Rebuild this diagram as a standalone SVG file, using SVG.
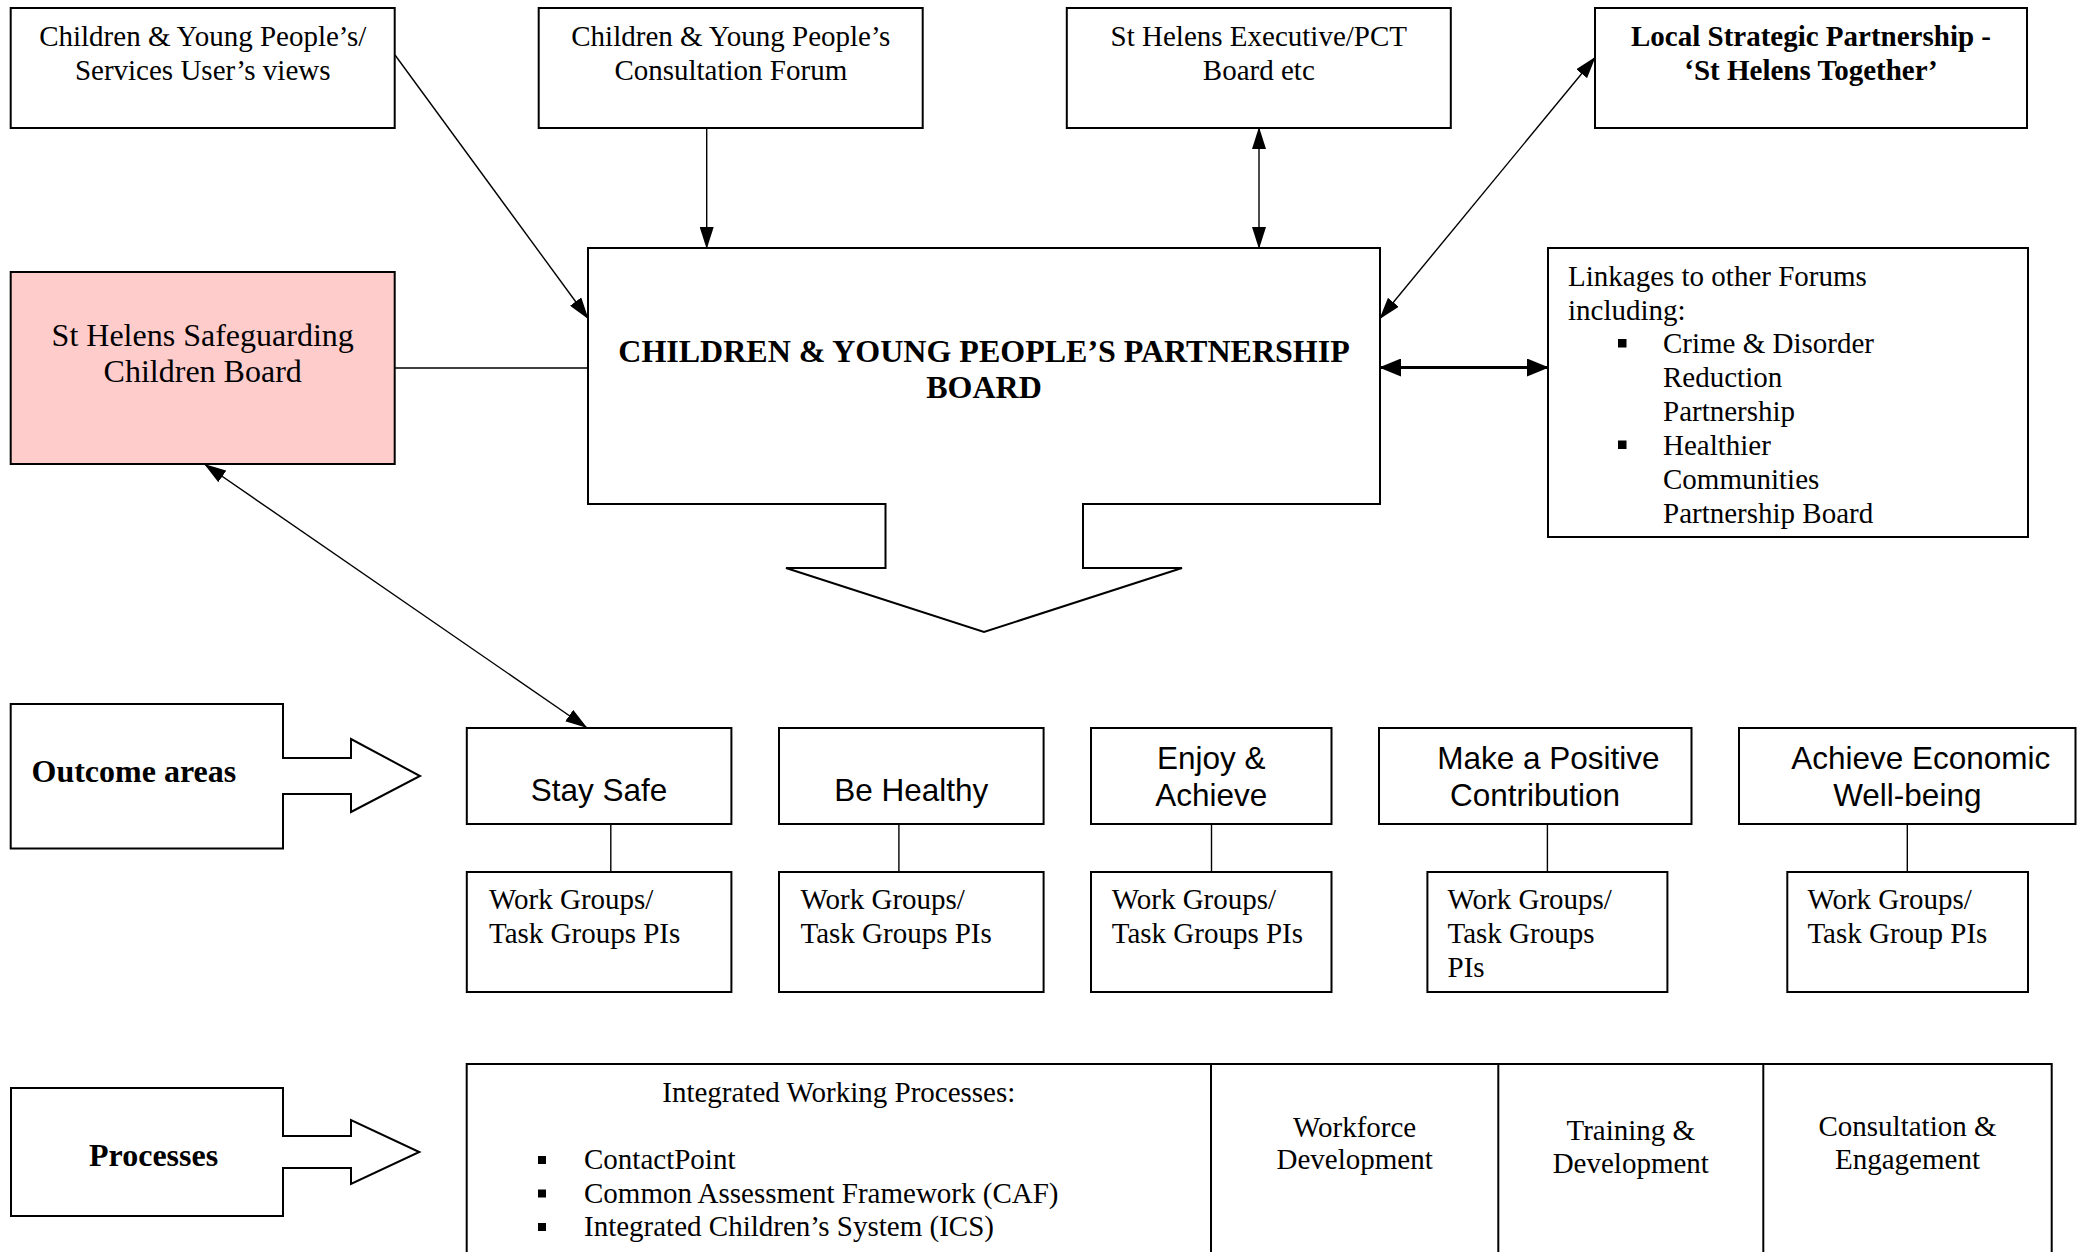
<svg xmlns="http://www.w3.org/2000/svg" width="2091" height="1252" viewBox="0 0 2091 1252">
<defs>
<marker id="ah" markerUnits="userSpaceOnUse" markerWidth="22" markerHeight="14" refX="21" refY="7" orient="auto-start-reverse" viewBox="0 0 22 14"><path d="M0,0 L22,7 L0,14 z" fill="#000"/></marker>
<marker id="ahb" markerUnits="userSpaceOnUse" markerWidth="22" markerHeight="18" refX="21" refY="9" orient="auto-start-reverse" viewBox="0 0 22 18"><path d="M0,0 L22,9 L0,18 z" fill="#000"/></marker>
</defs>
<style>
.box{fill:#fff;stroke:#000;stroke-width:2}
.pink{fill:#FFCCCC;stroke:#000;stroke-width:2}
.ln{stroke:#000;stroke-width:1.4;fill:none}
.thick{stroke:#000;stroke-width:3;fill:none}
.serif{font-family:"Liberation Serif","Times New Roman",serif;font-size:29px;fill:#000}
.bold{font-weight:bold}
.big{font-size:32px}
.sans{font-family:"Liberation Sans",Arial,sans-serif;font-size:31.5px;fill:#000}
.mid{text-anchor:middle}
.bul{fill:#000}
</style>
<rect x="0" y="0" width="2091" height="1252" fill="#fff"/>

<g id="connectors">
<line class="ln" x1="395" y1="55" x2="588" y2="318.5" marker-end="url(#ah)"/>
<line class="ln" x1="706.7" y1="128" x2="706.7" y2="248" marker-end="url(#ah)"/>
<line class="ln" x1="1259" y1="128" x2="1259" y2="248" marker-start="url(#ah)" marker-end="url(#ah)"/>
<line class="ln" x1="1380" y1="318.5" x2="1595" y2="57.5" marker-start="url(#ah)" marker-end="url(#ah)"/>
<line class="thick" x1="1380" y1="367.5" x2="1548" y2="367.5" marker-start="url(#ahb)" marker-end="url(#ahb)"/>
<line class="ln" x1="395" y1="368" x2="588" y2="368"/>
<line class="ln" x1="205" y1="464.5" x2="586.5" y2="727.5" marker-start="url(#ah)" marker-end="url(#ah)"/>
<line class="ln" x1="610.8" y1="824" x2="610.8" y2="872"/>
<line class="ln" x1="898.9" y1="824" x2="898.9" y2="872"/>
<line class="ln" x1="1211.5" y1="824" x2="1211.5" y2="872"/>
<line class="ln" x1="1547.4" y1="824" x2="1547.4" y2="872"/>
<line class="ln" x1="1907.3" y1="824" x2="1907.3" y2="872"/>
</g>

<g id="views">
<rect class="box" x="10.7" y="8" width="384" height="120"/>
<text class="serif mid" x="202.7" y="46">Children &amp; Young People’s/</text>
<text class="serif mid" x="202.7" y="80">Services User’s views</text>
</g>

<g id="forum">
<rect class="box" x="538.7" y="8" width="384" height="120"/>
<text class="serif mid" x="730.8" y="46">Children &amp; Young People’s</text>
<text class="serif mid" x="730.8" y="80">Consultation Forum</text>
</g>

<g id="executive">
<rect class="box" x="1066.8" y="8" width="384" height="120"/>
<text class="serif mid" x="1258.8" y="46">St Helens Executive/PCT</text>
<text class="serif mid" x="1258.8" y="80">Board etc</text>
</g>

<g id="lsp">
<rect class="box" x="1595" y="8" width="432" height="120"/>
<text class="serif bold mid" x="1811" y="46">Local Strategic Partnership -</text>
<text class="serif bold mid" x="1811" y="80">‘St Helens Together’</text>
</g>

<g id="safeguarding">
<rect class="pink" x="10.7" y="272" width="384" height="192"/>
<text class="serif big mid" x="202.7" y="346">St Helens Safeguarding</text>
<text class="serif big mid" x="202.7" y="382">Children Board</text>
</g>

<g id="partnership-board">
<polygon class="box" points="588,248 1380,248 1380,504 1083,504 1083,568 1182,568 984,632 786,568 885.5,568 885.5,504 588,504"/>
<text class="serif bold big mid" x="984" y="362">CHILDREN &amp; YOUNG PEOPLE’S PARTNERSHIP</text>
<text class="serif bold big mid" x="984" y="398">BOARD</text>
</g>

<g id="linkages">
<rect class="box" x="1548" y="248" width="480" height="289"/>
<text class="serif" x="1568" y="286">Linkages to other Forums</text>
<text class="serif" x="1568" y="319.5">including:</text>
<rect class="bul" x="1618" y="339" width="8.5" height="8.5"/>
<text class="serif" x="1663" y="353">Crime &amp; Disorder</text>
<text class="serif" x="1663" y="386.5">Reduction</text>
<text class="serif" x="1663" y="420.5">Partnership</text>
<rect class="bul" x="1618" y="440.5" width="8.5" height="8.5"/>
<text class="serif" x="1663" y="454.5">Healthier</text>
<text class="serif" x="1663" y="488.5">Communities</text>
<text class="serif" x="1663" y="522.5">Partnership Board</text>
</g>

<g id="outcome-areas">
<polygon class="box" points="10.7,704 283,704 283,758 351,758 351,739 420,776 351,812 351,794 283,794 283,848.5 10.7,848.5"/>
<text class="serif bold big" x="31.5" y="782">Outcome areas</text>
</g>

<g id="stay-safe">
<rect class="box" x="466.8" y="728" width="264.6" height="96"/>
<text class="sans mid" x="599.1" y="801">Stay Safe</text>
</g>

<g id="be-healthy">
<rect class="box" x="779" y="728" width="264.6" height="96"/>
<text class="sans mid" x="911.3" y="801">Be Healthy</text>
</g>

<g id="enjoy-achieve">
<rect class="box" x="1091" y="728" width="240.5" height="96"/>
<text class="sans mid" x="1211.2" y="768.5">Enjoy &amp;</text>
<text class="sans mid" x="1211.2" y="805.5">Achieve</text>
</g>

<g id="positive-contribution">
<rect class="box" x="1379" y="728" width="312.5" height="96"/>
<text class="sans mid" x="1548.4" y="768.5">Make a Positive</text>
<text class="sans mid" x="1535" y="805.5">Contribution</text>
</g>

<g id="economic-wellbeing">
<rect class="box" x="1739" y="728" width="336.5" height="96"/>
<text class="sans mid" x="1920.7" y="768.5">Achieve Economic</text>
<text class="sans mid" x="1907.3" y="805.5">Well-being</text>
</g>

<g id="wg-stay-safe">
<rect class="box" x="466.8" y="872" width="264.6" height="120"/>
<text class="serif" x="489" y="909">Work Groups/</text>
<text class="serif" x="489" y="943">Task Groups PIs</text>
</g>

<g id="wg-be-healthy">
<rect class="box" x="779" y="872" width="264.6" height="120"/>
<text class="serif" x="800.5" y="909">Work Groups/</text>
<text class="serif" x="800.5" y="943">Task Groups PIs</text>
</g>

<g id="wg-enjoy">
<rect class="box" x="1091" y="872" width="240.5" height="120"/>
<text class="serif" x="1111.7" y="909">Work Groups/</text>
<text class="serif" x="1111.7" y="943">Task Groups PIs</text>
</g>

<g id="wg-positive">
<rect class="box" x="1427.4" y="872" width="240" height="120"/>
<text class="serif" x="1447.5" y="909">Work Groups/</text>
<text class="serif" x="1447.5" y="943">Task Groups</text>
<text class="serif" x="1447.5" y="977">PIs</text>
</g>

<g id="wg-economic">
<rect class="box" x="1787.3" y="872" width="240.7" height="120"/>
<text class="serif" x="1807.4" y="909">Work Groups/</text>
<text class="serif" x="1807.4" y="943">Task Group PIs</text>
</g>

<g id="processes">
<polygon class="box" points="11,1088 283,1088 283,1136 351,1136 351,1120 419.3,1152 351,1184 351,1168 283,1168 283,1216 11,1216"/>
<text class="serif bold big" x="89" y="1166">Processes</text>
</g>

<g id="process-table">
<rect class="box" x="466.7" y="1064" width="1585" height="220"/>
<line class="box" x1="1211" y1="1064" x2="1211" y2="1260"/>
<line class="box" x1="1498.3" y1="1064" x2="1498.3" y2="1260"/>
<line class="box" x1="1763.3" y1="1064" x2="1763.3" y2="1260"/>
<text class="serif mid" x="838.8" y="1102">Integrated Working Processes:</text>
<rect class="bul" x="538" y="1156" width="8" height="8"/>
<text class="serif" x="584" y="1169">ContactPoint</text>
<rect class="bul" x="538" y="1189.5" width="8" height="8"/>
<text class="serif" x="584" y="1202.5">Common Assessment Framework (CAF)</text>
<rect class="bul" x="538" y="1223" width="8" height="8"/>
<text class="serif" x="584" y="1236">Integrated Children’s System (ICS)</text>
<text class="serif mid" x="1354.6" y="1137">Workforce</text>
<text class="serif mid" x="1354.6" y="1169">Development</text>
<text class="serif mid" x="1630.8" y="1140">Training &amp;</text>
<text class="serif mid" x="1630.8" y="1173">Development</text>
<text class="serif mid" x="1907.5" y="1136">Consultation &amp;</text>
<text class="serif mid" x="1907.5" y="1169">Engagement</text>
</g>
</svg>
